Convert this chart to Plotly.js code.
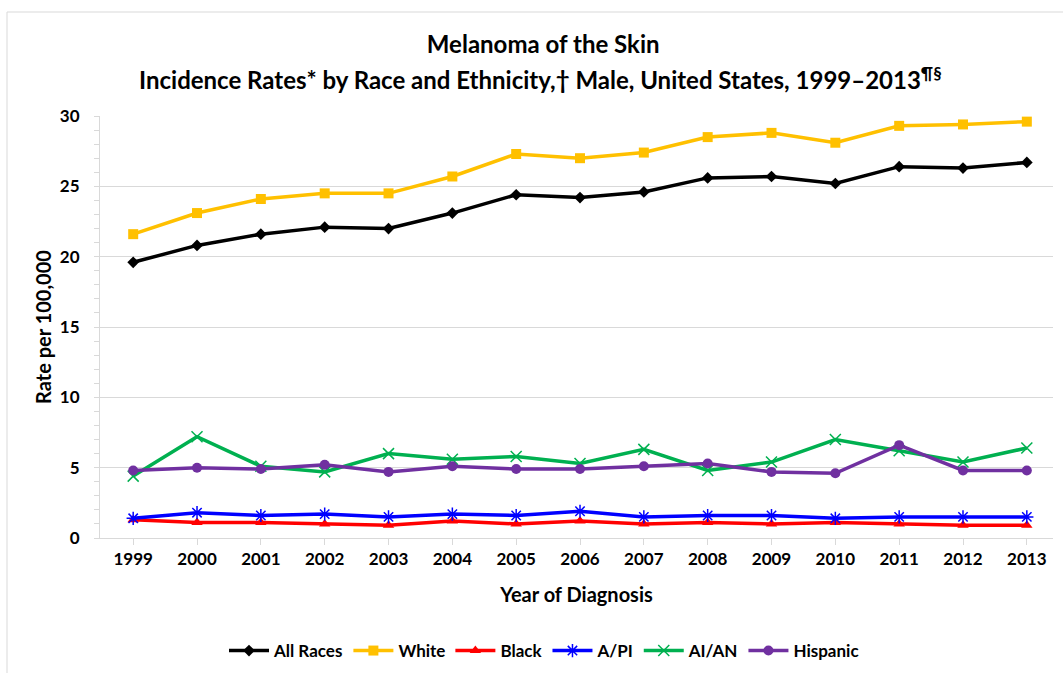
<!DOCTYPE html>
<html>
<head>
<meta charset="utf-8">
<script src="https://cdn.plot.ly/plotly-3.0.1.min.js"></script>
<style>
  html, body { margin: 0; padding: 0; background: #fff; }
  #chart { width: 1063px; height: 673px; }
</style>
</head>
<body>
<div id="chart"></div>
<script>
var years = [1999, 2000, 2001, 2002, 2003, 2004, 2005, 2006, 2007, 2008, 2009, 2010, 2011, 2012, 2013];
var allRaces = [19.6, 20.8, 21.6, 22.1, 22.0, 23.1, 24.4, 24.2, 24.6, 25.6, 25.7, 25.2, 26.4, 26.3, 26.7];
var white    = [21.6, 23.1, 24.1, 24.5, 24.5, 25.7, 27.3, 27.0, 27.4, 28.5, 28.8, 28.1, 29.3, 29.4, 29.6];
var black    = [1.3, 1.1, 1.1, 1.0, 0.9, 1.2, 1.0, 1.2, 1.0, 1.1, 1.0, 1.1, 1.0, 0.9, 0.9];
var api      = [1.4, 1.8, 1.6, 1.7, 1.5, 1.7, 1.6, 1.9, 1.5, 1.6, 1.6, 1.4, 1.5, 1.5, 1.5];
var aian     = [4.4, 7.2, 5.1, 4.7, 6.0, 5.6, 5.8, 5.3, 6.3, 4.8, 5.4, 7.0, 6.2, 5.4, 6.4];
var hispanic = [4.8, 5.0, 4.9, 5.2, 4.7, 5.1, 4.9, 4.9, 5.1, 5.3, 4.7, 4.6, 6.6, 4.8, 4.8];

var seriesNames = ["All Races", "White", "Black", "A/PI", "AI/AN", "Hispanic"];
var seriesData = [allRaces, white, black, api, aian, hispanic];
var colors = ["#000000", "#FFC000", "#FF0000", "#0000FF", "#00B050", "#7030A0"];
var symbols = ["diamond", "square", "triangle-up", "asterisk-open", "x-thin-open", "circle"];
var sizes = [9, 10, 10, 11, 11, 10];

var FONT = "Lato, 'Open Sans', sans-serif";

var traces = seriesNames.map(function (name, i) {
  return {
    type: "scatter",
    mode: "lines+markers",
    name: name,
    x: years,
    y: seriesData[i],
    line: { color: colors[i], width: 3.5 },
    marker: {
      symbol: symbols[i],
      size: sizes[i],
      color: colors[i],
      line: { color: colors[i], width: (i === 3 || i === 4) ? 1.5 : 0 }
    }
  };
});

var layout = {
  width: 1063,
  height: 673,
  paper_bgcolor: "#ffffff",
  plot_bgcolor: "#ffffff",
  margin: { l: 100, r: 10, t: 116, b: 135 },
  font: { family: FONT, color: "#000000" },
  title: {
    text: "Melanoma of the Skin",
    font: { family: FONT, size: 24, weight: "bold", color: "#000000" },
    x: 0.511, xref: "container", xanchor: "center",
    y: 1 - 45 / 673, yref: "container", yanchor: "middle"
  },
  annotations: [{
    text: "Incidence Rates* by Race and Ethnicity,† Male, United States, 1999–2013<sup>¶§</sup>",
    xref: "paper", yref: "paper",
    x: 0.4627, y: (538 - 78) / 422,
    xanchor: "center", yanchor: "middle",
    showarrow: false,
    font: { family: FONT, size: 24, weight: "bold", color: "#000000" }
  }],
  xaxis: {
    range: [1998.48, 2013.41],
    tickvals: years,
    ticktext: years.map(String),
    automargin: false,
    showgrid: false,
    zeroline: false,
    showline: true,
    linecolor: "#d9d9d9",
    linewidth: 1,
    ticks: "outside",
    ticklen: 6,
    tickcolor: "#d9d9d9",
    tickfont: { family: FONT, size: 17, weight: "bold", color: "#000000" },
    title: {
      text: "Year of Diagnosis",
      font: { family: FONT, size: 20, weight: "bold", color: "#000000" },
      standoff: 19
    },
    fixedrange: true
  },
  yaxis: {
    range: [0, 30],
    dtick: 5,
    tick0: 0,
    automargin: false,
    showgrid: true,
    gridcolor: "#d9d9d9",
    gridwidth: 1,
    zeroline: false,
    showline: true,
    linecolor: "#d9d9d9",
    linewidth: 1,
    ticks: "outside",
    ticklen: 5,
    tickcolor: "#d9d9d9",
    ticklabelstandoff: 11,
    tickfont: { family: FONT, size: 17, weight: "bold", color: "#000000" },
    minor: { dtick: 1, ticks: "outside", ticklen: 5, tickcolor: "#d9d9d9", showgrid: false },
    title: {
      text: "Rate per 100,000",
      font: { family: FONT, size: 20, weight: "bold", color: "#000000" },
      standoff: 2
    },
    fixedrange: true
  },
  legend: {
    orientation: "h",
    xref: "container",
    yref: "container",
    x: 544 / 1063, xanchor: "center",
    y: 1 - 651 / 673, yanchor: "middle",
    font: { family: FONT, size: 17, weight: "bold", color: "#000000" },
    itemwidth: 40,
    traceorder: "normal"
  },
  shapes: [{
    type: "rect",
    xref: "paper", yref: "paper",
    x0: (7 - 100) / 953, x1: 2,
    y0: -2, y1: (538 - 12) / 422,
    line: { color: "#d9d9d9", width: 1 },
    fillcolor: "rgba(0,0,0,0)",
    layer: "below"
  }],
  showlegend: true
};

Plotly.newPlot("chart", traces, layout, { displayModeBar: false, staticPlot: true });
</script>
</body>
</html>
